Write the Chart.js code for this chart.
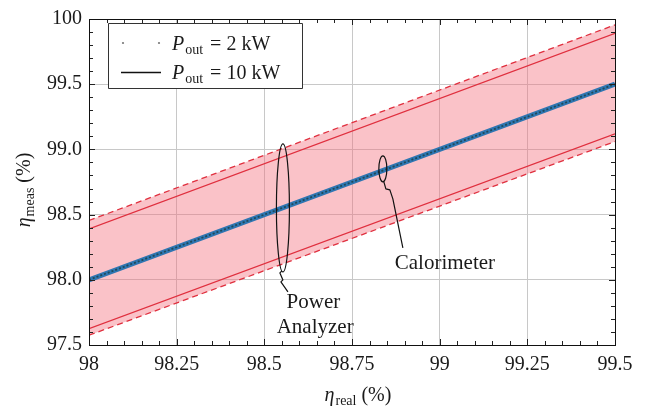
<!DOCTYPE html>
<html>
<head>
<meta charset="utf-8">
<script src="https://cdn.jsdelivr.net/npm/chart.js@4.4.1/dist/chart.umd.min.js"></script>
<style>
html,body{margin:0;padding:0;background:#fff;}
#wrap{width:648px;height:413px;position:relative;}
</style>
</head>
<body>
<div id="wrap"><canvas id="c" width="648" height="413"></canvas></div>
<script>
// ---- data ----
const xTicks = [98, 98.25, 98.5, 98.75, 99, 99.25, 99.5];
const xTickLabels = ['98', '98.25', '98.5', '98.75', '99', '99.25', '99.5'];
const yTicks = [97.5, 98, 98.5, 99, 99.5, 100];
const yTickLabels = ['97.5', '98.0', '98.5', '99.0', '99.5', '100'];
const etaReal = [98, 99.5];
const etaMeas2kW = [98, 99.5];
const etaMeas10kW = [98, 99.5];
const paUpper2kW = [98.455, 99.955];
const paUpper10kW = [98.39, 99.89];
const paLower10kW = [97.625, 99.12];
const paLower2kW = [97.575, 99.06];
const legendLabels = ['2 kW', '10 kW'];
const annoTexts = ['Calorimeter', 'Power', 'Analyzer'];

const pts = (ys) => etaReal.map((x, i) => ({x: x, y: ys[i]}));
const RED = '#e0303f';
const SERIF = '"Liberation Serif", "DejaVu Serif", serif';

Chart.defaults.font.family = SERIF;
Chart.defaults.font.size = 20;
Chart.defaults.color = '#1a1a1a';

function etaLabel(ctx, x, y, sub, align) {
  // draws η_sub (%) with baseline at y; returns nothing
  ctx.save();
  ctx.fillStyle = '#1a1a1a';
  ctx.textBaseline = 'alphabetic';
  ctx.font = 'italic 20px ' + SERIF;
  const w1 = ctx.measureText('η').width;
  ctx.font = '14px ' + SERIF;
  const w2 = ctx.measureText(sub).width;
  ctx.font = '20px ' + SERIF;
  const w3 = ctx.measureText(' (%)').width;
  const total = w1 + 1 + w2 + w3;
  let sx = x - total / 2;
  ctx.font = 'italic 20px ' + SERIF;
  ctx.textAlign = 'left';
  ctx.fillText('η', sx, y);
  ctx.font = '14px ' + SERIF;
  ctx.fillText(sub, sx + w1 + 1, y + 4);
  ctx.font = '20px ' + SERIF;
  ctx.fillText(' (%)', sx + w1 + 1 + w2, y);
  ctx.restore();
}

const decor = {
  id: 'decor',
  afterDraw(chart) {
    const ctx = chart.ctx;
    const xs = chart.scales.x, ys = chart.scales.y;
    const a = chart.chartArea;
    ctx.save();
    // minor/major ticks inward on four sides
    ctx.strokeStyle = '#222';
    ctx.lineWidth = 1;
    ctx.beginPath();
    for (let k = 0; k <= 30; k++) {
      const v = 98 + k * 0.05;
      const px = Math.round(xs.getPixelForValue(v)) + 0.5;
      const L = (k % 5 === 0) ? 6 : 4;
      ctx.moveTo(px, a.bottom); ctx.lineTo(px, a.bottom - L);
      ctx.moveTo(px, a.top); ctx.lineTo(px, a.top + L);
    }
    for (let k = 0; k <= 25; k++) {
      const v = 97.5 + k * 0.1;
      const py = Math.round(ys.getPixelForValue(v)) + 0.5;
      const L = (k % 5 === 0) ? 6 : 4;
      ctx.moveTo(a.left, py); ctx.lineTo(a.left + L, py);
      ctx.moveTo(a.right, py); ctx.lineTo(a.right - L, py);
    }
    ctx.stroke();
    // frame
    ctx.strokeStyle = '#111';
    ctx.strokeRect(Math.round(a.left) + 0.5, Math.round(a.top) + 0.5,
                   Math.round(a.right - a.left), Math.round(a.bottom - a.top));

    // annotations
    ctx.strokeStyle = '#111';
    ctx.lineWidth = 1.2;
    ctx.lineJoin = 'round';
    // Power analyzer bracket
    let cx = xs.getPixelForValue(98.553), cy = ys.getPixelForValue(98.551);
    ctx.beginPath();
    ctx.ellipse(cx, cy, 6.5, 64, 0, 0, Math.PI * 2);
    ctx.stroke();
    ctx.beginPath();
    ctx.moveTo(cx - 1, cy + 63);
    ctx.lineTo(cx - 3, cy + 65);
    ctx.lineTo(cx + 0, cy + 72);
    ctx.lineTo(cx - 2, cy + 74);
    ctx.lineTo(cx + 5, cy + 84);
    ctx.stroke();
    // Calorimeter loop
    cx = xs.getPixelForValue(98.838); cy = ys.getPixelForValue(98.851);
    ctx.beginPath();
    ctx.ellipse(cx, cy, 4, 13, 0, 0, Math.PI * 2);
    ctx.stroke();
    ctx.beginPath();
    ctx.moveTo(cx + 1, cy + 13);
    ctx.lineTo(cx + 3, cy + 20);
    ctx.lineTo(cx + 7, cy + 21);
    ctx.lineTo(cx + 10, cy + 30);
    ctx.lineTo(cx + 20, cy + 79);
    ctx.stroke();

    ctx.fillStyle = '#1a1a1a';
    ctx.font = '21px ' + SERIF;
    ctx.textAlign = 'center';
    ctx.textBaseline = 'alphabetic';
    ctx.fillText(annoTexts[0], xs.getPixelForValue(99.015), ys.getPixelForValue(98.08));
    ctx.fillText(annoTexts[1], xs.getPixelForValue(98.64), ys.getPixelForValue(97.785));
    ctx.fillText(annoTexts[2], xs.getPixelForValue(98.645), ys.getPixelForValue(97.59));

    // legend
    const bx = 108, by = 23, bw = 194, bh = 65;
    ctx.fillStyle = '#fff';
    ctx.fillRect(bx, by, bw, bh);
    ctx.strokeStyle = '#333';
    ctx.lineWidth = 1;
    ctx.strokeRect(bx + 0.5, by + 0.5, bw, bh);
    const rows = [43, 72];
    // sample 1 dotted
    ctx.fillStyle = '#777';
    ctx.beginPath(); ctx.arc(123, rows[0], 1.1, 0, Math.PI * 2); ctx.fill();
    ctx.beginPath(); ctx.arc(159, rows[0], 1.1, 0, Math.PI * 2); ctx.fill();
    // sample 2 solid
    ctx.strokeStyle = '#111';
    ctx.lineWidth = 1.3;
    ctx.beginPath(); ctx.moveTo(121, rows[1] + 0.5); ctx.lineTo(161, rows[1] + 0.5); ctx.stroke();
    ctx.fillStyle = '#1a1a1a';
    ctx.textAlign = 'left';
    for (let i = 0; i < 2; i++) {
      const base = rows[i] + 7;
      let x = 172;
      ctx.font = 'italic 20px ' + SERIF;
      ctx.fillText('P', x, base);
      x += ctx.measureText('P').width + 1;
      ctx.font = '14px ' + SERIF;
      ctx.fillText('out', x, base + 4);
      x += ctx.measureText('out').width;
      ctx.font = '20px ' + SERIF;
      ctx.fillText(' = ' + legendLabels[i], x + 2, base);
    }

    // axis titles
    etaLabel(ctx, (a.left + a.right) / 2 + 6, 401, 'real');
    ctx.save();
    ctx.translate(30, 190);
    ctx.rotate(-Math.PI / 2);
    etaLabel(ctx, 0, 0, 'meas');
    ctx.restore();
    ctx.restore();
  }
};

new Chart(document.getElementById('c'), {
  type: 'line',
  data: {
    datasets: [
      { label: '2 kW', data: pts(etaMeas2kW), borderColor: '#1f4a5a', borderWidth: 1.8, borderDash: [2, 2], pointRadius: 0, fill: false },
      { label: '10 kW', data: pts(etaMeas10kW), borderColor: '#2f76b2', borderWidth: 5, pointRadius: 0, fill: false },
      { label: 'PA up 2kW', data: pts(paUpper2kW), borderColor: RED, borderWidth: 1.3, borderDash: [6, 4], pointRadius: 0,
        fill: { target: 5 }, backgroundColor: 'rgba(243,110,125,0.42)' },
      { label: 'PA up 10kW', data: pts(paUpper10kW), borderColor: RED, borderWidth: 1.3, pointRadius: 0, fill: false },
      { label: 'PA lo 10kW', data: pts(paLower10kW), borderColor: RED, borderWidth: 1.3, pointRadius: 0, fill: false },
      { label: 'PA lo 2kW', data: pts(paLower2kW), borderColor: RED, borderWidth: 1.3, borderDash: [6, 4], pointRadius: 0, fill: false }
    ]
  },
  options: {
    responsive: false,
    animation: false,
    devicePixelRatio: 1,
    layout: { padding: { left: 0, top: 12, right: 33, bottom: 0 } },
    plugins: {
      legend: { display: false },
      tooltip: { enabled: false },
      filler: { drawTime: 'beforeDatasetsDraw' }
    },
    scales: {
      x: {
        type: 'linear', min: 98, max: 99.5,
        afterBuildTicks: (s) => { s.ticks = xTicks.map(v => ({ value: v })); },
        afterFit: (s) => { s.height = 68; },
        ticks: { callback: (v) => xTickLabels[xTicks.indexOf(v)] ?? '', padding: 8, maxRotation: 0, autoSkip: false, font: { size: 20 } },
        grid: { color: '#c8c8c8', lineWidth: 1, drawTicks: false },
        border: { display: false }
      },
      y: {
        type: 'linear', min: 97.5, max: 100,
        afterBuildTicks: (s) => { s.ticks = yTicks.map(v => ({ value: v })); },
        afterFit: (s) => { s.width = 89; },
        ticks: { callback: (v) => yTickLabels[yTicks.indexOf(v)] ?? '', padding: 7, autoSkip: false, font: { size: 20 } },
        grid: { color: '#c8c8c8', lineWidth: 1, drawTicks: false },
        border: { display: false }
      }
    }
  },
  plugins: [decor]
});
</script>
</body>
</html>
